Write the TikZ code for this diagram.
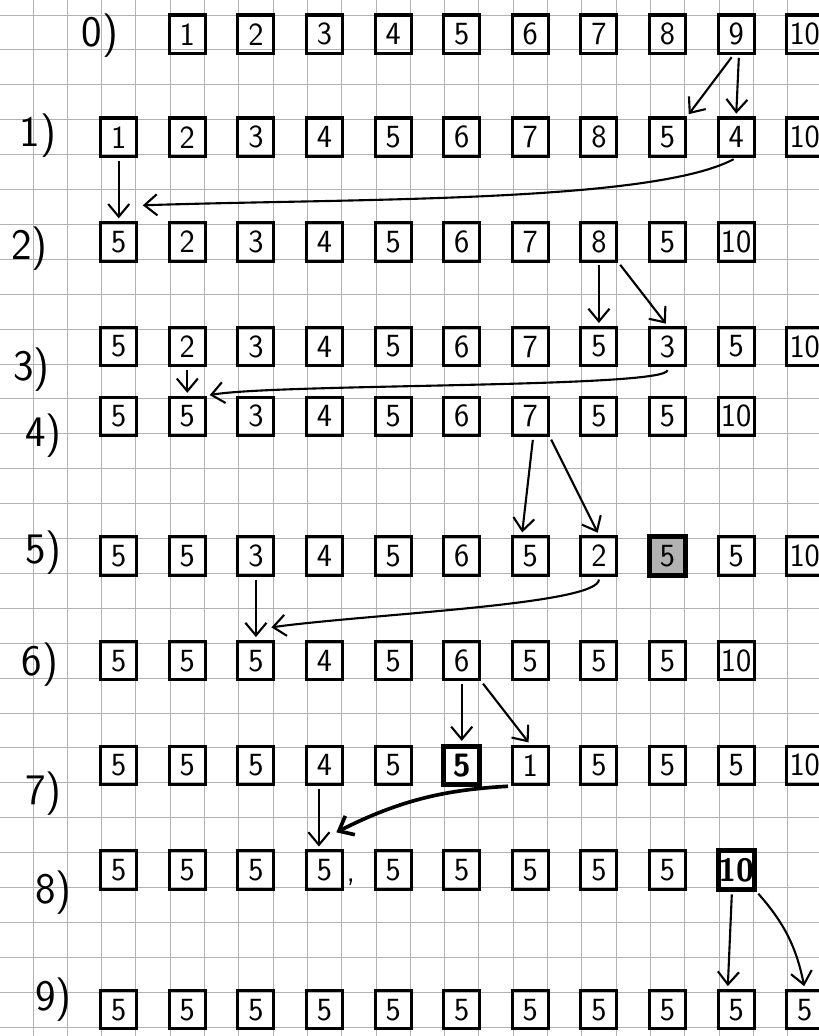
\documentclass[tikz,border=0pt]{standalone}
\usepackage{fontspec}
\usetikzlibrary{calc,arrows.meta}

\newcommand{\digitfont}{\fontsize{23}{26}\selectfont\sffamily}
\newcommand{\labelfont}{\fontsize{31}{34}\selectfont\sffamily}

\begin{document}
\begin{tikzpicture}[
    x=0.8575cm, y=0.8725cm,
    cell/.style={draw, line width=2.2pt, minimum width=0.9cm, minimum height=0.96cm, inner sep=0pt, font=\digitfont},
    bold/.style={cell, line width=3.4pt, font=\digitfont\bfseries},
    dark/.style={cell, line width=3.4pt, fill=gray!60},
    lbl/.style={font=\labelfont},
    paper/.style={gray!60, line width=0.6pt},
    arr/.style={-{Straight Barb[length=9pt,width=15pt]}, line width=1.5pt, shorten <=2pt, shorten >=2pt}
]

% Page and squared paper
\useasboundingbox (-0.962,0.43) rectangle (22.915,-29.255);
\fill[white] (-0.962,0.43) rectangle (22.915,-29.255);
\foreach \i in {0,...,22}
    \draw[paper] (\i,0.43) -- (\i,-29.255);
\foreach \j in {0,...,29}
    \draw[paper] (-0.962,-\j) -- (22.915,-\j);

% Step labels
\node[lbl] (l0) at (1.95,-0.6) {0)};
\node[lbl] (l1) at (0.15,-3.45) {1)};
\node[lbl] (l2) at (-0.1,-6.7) {2)};
\node[lbl] (l3) at (-0.05,-10.15) {3)};
\node[lbl] (l4) at (0.3,-12.05) {4)};
\node[lbl] (l5) at (0.3,-15.4) {5)};
\node[lbl] (l6) at (0.2,-18.6) {6)};
\node[lbl] (l7) at (0.3,-22.3) {7)};
\node[lbl] (l8) at (0.6,-25.15) {8)};
\node[lbl] (l9) at (0.6,-28.2) {9)};

% Rows of boxes
\foreach \v [count=\i from 1] in {1,2,3,4,5,6,7,8,9,10}
    \node[cell] (r0c\i) at ({2.5+2*\i},-0.55) {\v};
\foreach \v [count=\i from 0] in {1,2,3,4,5,6,7,8,5,4,10}
    \node[cell] (r1c\i) at ({2.5+2*\i},-3.5) {\v};
\foreach \v [count=\i from 0] in {5,2,3,4,5,6,7,8,5,10}
    \node[cell] (r2c\i) at ({2.5+2*\i},-6.5) {\v};
\foreach \v [count=\i from 0] in {5,2,3,4,5,6,7,5,3,5,10}
    \node[cell] (r3c\i) at ({2.5+2*\i},-9.5) {\v};
\foreach \v [count=\i from 0] in {5,5,3,4,5,6,7,5,5,10}
    \node[cell] (r4c\i) at ({2.5+2*\i},-11.5) {\v};
\foreach \v/\s [count=\i from 0] in {5/cell,5/cell,3/cell,4/cell,5/cell,6/cell,5/cell,2/cell,5/dark,5/cell,10/cell}
    \node[\s] (r5c\i) at ({2.5+2*\i},-15.5) {\v};
\foreach \v [count=\i from 0] in {5,5,5,4,5,6,5,5,5,10}
    \node[cell] (r6c\i) at ({2.5+2*\i},-18.5) {\v};
\foreach \v/\s [count=\i from 0] in {5/cell,5/cell,5/cell,4/cell,5/cell,5/bold,1/cell,5/cell,5/cell,5/cell,10/cell}
    \node[\s] (r7c\i) at ({2.5+2*\i},-21.5) {\v};
\foreach \v/\s [count=\i from 0] in {5/cell,5/cell,5/cell,5/cell,5/cell,5/cell,5/cell,5/cell,5/cell,10/bold}
    \node[\s] (r8c\i) at ({2.5+2*\i},-24.5) {\v};
\foreach \v [count=\i from 0] in {5,5,5,5,5,5,5,5,5,5,5}
    \node[cell] (r9c\i) at ({2.5+2*\i},-28.5) {\v};
\node[font=\digitfont] (comma) at ($(r8c3.south east)+(0.2,0.25)$) {,};

% 0) -> 1)
\draw[arr] ([xshift=-2pt]r0c9.south) -- (r1c8.north east);
\draw[arr] ([xshift=2pt]r0c9.south) -- (r1c9.north);

% 1) -> 2)
\draw[arr] (r1c0.south) -- (r2c0.north);
\draw[arr] (r1c9.south) .. controls +(-2.5,-1.3) and +(6,0.2) .. ($(r2c0.north east)+(0.05,0.45)$);

% 2) -> 3)
\draw[arr] (r2c7.south) -- (r3c7.north);
\draw[arr] (r2c7.south east) -- (r3c8.north);

% 3) -> 4)
\draw[arr] (r3c1.south) -- (r4c1.north);
\draw[arr] (r3c8.south) .. controls +(0,-0.6) and +(2,0.35) .. (r4c1.north east);

% 4) -> 5)
\draw[arr] ([xshift=2pt]r4c6.south) -- ([xshift=-6pt]r5c6.north);
\draw[arr] (r4c6.south east) -- (r5c7.north);

% 5) -> 6)
\draw[arr] (r5c2.south) -- (r6c2.north);
\draw[arr] (r5c7.south) .. controls +(0,-0.8) and +(3,0.4) .. ($(r6c2.north east)+(-0.2,0.35)$);

% 6) -> 7)
\draw[arr] (r6c5.south) -- (r7c5.north);
\draw[arr] (r6c5.south east) -- (r7c6.north);

% 7) -> 8)
\draw[arr] ([xshift=-4pt]r7c3.south) -- ([xshift=-4pt]r8c3.north);
\draw[arr, line width=2.6pt] (r7c6.south west) .. controls +(-1.8,-0.1) and +(2,1) .. ($(r8c3.north east)+(-0.3,0.45)$);

% 8) -> 9)
\draw[arr] ([xshift=-3pt]r8c9.south) -- ([xshift=-6pt]r9c9.north);
\draw[arr] (r8c9.south east) to[bend left=15] (r9c10.north);

\end{tikzpicture}
\end{document}
